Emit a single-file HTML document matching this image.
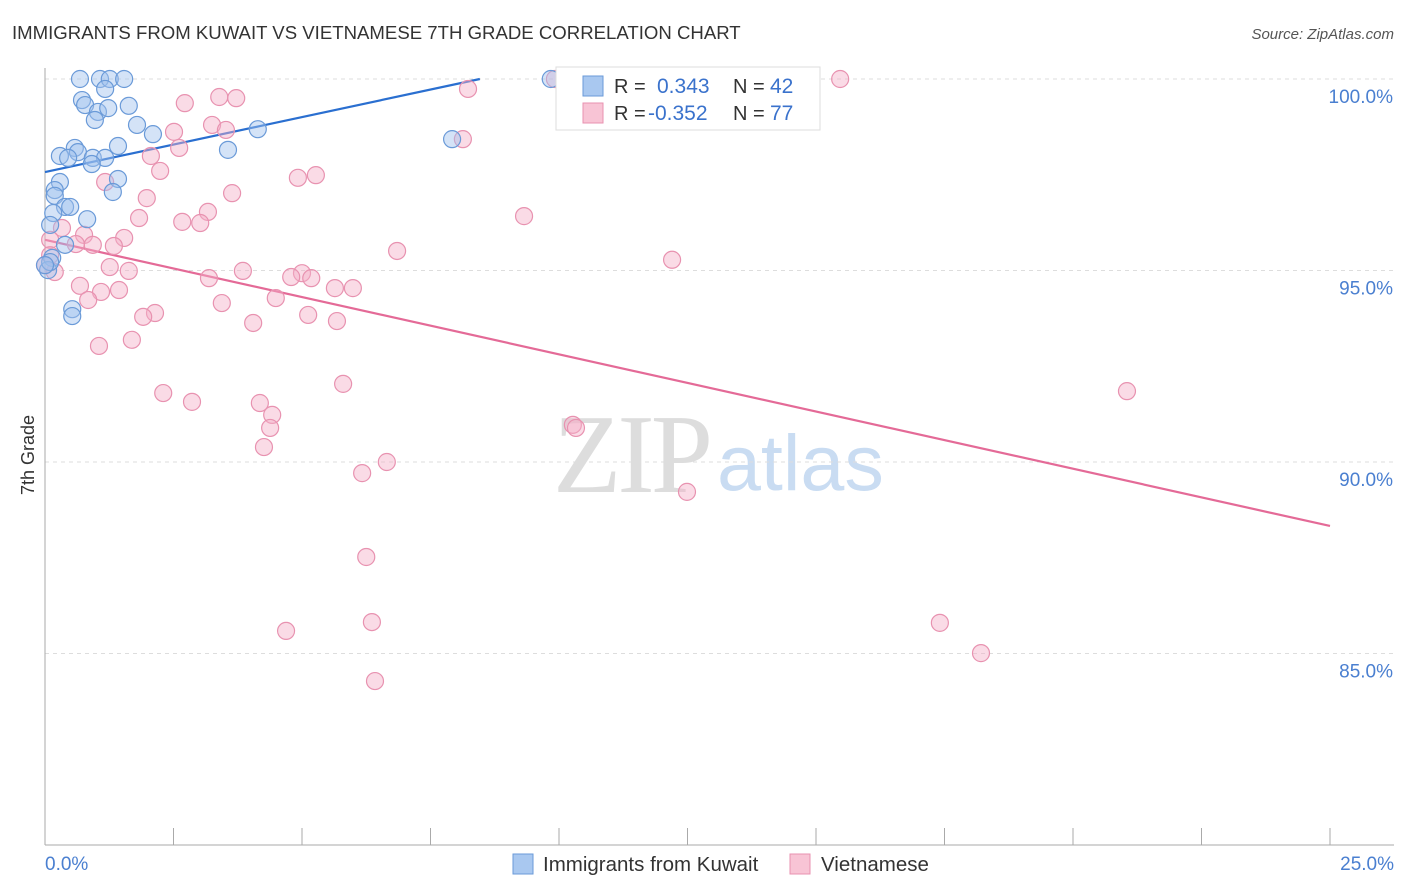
<!DOCTYPE html>
<html><head><meta charset="utf-8"><style>
body{margin:0;background:#fff;font-family:"Liberation Sans",sans-serif;}
svg{display:block}
</style></head><body>
<svg id="chart" width="1406" height="892" viewBox="0 0 1406 892">
<text x="12" y="39" font-size="18.6" fill="#333">IMMIGRANTS FROM KUWAIT VS VIETNAMESE 7TH GRADE CORRELATION CHART</text>
<text x="1394" y="39" font-size="15" fill="#555" font-style="italic" text-anchor="end">Source: ZipAtlas.com</text>
<text transform="translate(34,455) rotate(-90)" font-size="18" fill="#333" text-anchor="middle">7th Grade</text>
<g><text x="553" y="492" font-size="112" fill="#ddd" font-family="Liberation Serif,serif" letter-spacing="-4">ZIP</text><text x="717" y="490" font-size="79" fill="#c9dcf2">atlas</text></g>
<g id="grid"></g><g id="axes"></g><g id="lines"></g><g id="pts"></g>
<g>
<rect x="556" y="67" width="264" height="63" fill="#fff" stroke="#ddd"/>
<rect x="583" y="76" width="20" height="20" fill="#a9c8f0" stroke="#6a9ad8"/>
<text x="614" y="93" font-size="20" fill="#333">R = </text><text x="657" y="93" font-size="21" fill="#3a72cc">0.343</text>
<text x="733" y="93" font-size="20" fill="#333">N = </text><text x="770" y="93" font-size="21" fill="#3a72cc">42</text>
<rect x="583" y="103" width="20" height="20" fill="#f8c4d5" stroke="#e892b0"/>
<text x="614" y="120" font-size="20" fill="#333">R = </text><text x="648" y="120" font-size="21" fill="#3a72cc">-0.352</text>
<text x="733" y="120" font-size="20" fill="#333">N = </text><text x="770" y="120" font-size="21" fill="#3a72cc">77</text>
</g>
<g><rect x="513" y="854" width="20" height="20" fill="#a9c8f0" stroke="#6a9ad8"/><text x="543" y="871" font-size="20.5" fill="#333">Immigrants from Kuwait</text></g>
<g><rect x="790" y="854" width="20" height="20" fill="#f8c4d5" stroke="#e892b0"/><text x="821" y="871" font-size="20.5" fill="#333">Vietnamese</text></g>
</svg>
<script>
const blueX=[0.68,1.07,1.26,1.54,1.17,0.72,0.78,1.03,0.97,1.23,1.63,1.79,2.10,1.42,0.58,0.64,0.29,0.45,0.93,1.17,0.91,1.42,1.32,0.29,0.19,0.19,0.39,0.49,0.16,0.82,0.10,3.56,4.14,7.92,9.84,0.39,0.14,0.06,0.53,0.53,0.10,0];
const blueY=[100,100,100,100,99.74,99.45,99.32,99.14,98.93,99.24,99.30,98.80,98.56,98.25,98.20,98.09,97.99,97.94,97.94,97.94,97.78,97.39,97.05,97.31,97.10,96.95,96.66,96.66,96.50,96.34,96.19,98.15,98.69,98.43,100,95.67,95.33,95.01,93.99,93.81,95.22,95.14];
const pinkX=[15.47,9.92,8.23,2.72,3.39,3.72,3.25,3.52,2.51,8.13,2.61,2.06,2.24,5.27,4.92,1.17,3.64,1.98,9.32,3.17,1.83,2.67,3.02,0.33,0.76,1.54,0.10,0.60,0.93,1.34,6.85,12.20,1.26,1.63,3.85,0.19,5.00,4.79,5.18,3.19,0.68,1.44,5.64,5.99,1.09,0.84,4.49,3.44,5.12,2.14,1.91,4.05,5.68,1.69,1.05,5.80,2.30,2.86,4.18,4.42,4.38,10.27,10.33,21.05,4.26,6.65,6.17,12.49,6.25,4.69,6.36,17.41,18.21,6.42,0.10,0];
const pinkY=[100,100,99.74,99.37,99.53,99.50,98.80,98.67,98.62,98.43,98.20,97.99,97.60,97.49,97.42,97.31,97.02,96.89,96.42,96.53,96.37,96.27,96.24,96.11,95.93,95.85,95.80,95.69,95.67,95.64,95.51,95.28,95.09,94.99,94.99,94.96,94.93,94.83,94.80,94.80,94.60,94.49,94.54,94.54,94.44,94.23,94.28,94.15,93.84,93.89,93.79,93.63,93.68,93.19,93.03,92.04,91.80,91.57,91.54,91.23,90.89,90.97,90.89,91.85,90.39,90.00,89.71,89.22,87.52,85.59,85.82,85.80,85.01,84.28,95.40,95.14];
const yTicks=[100,95,90,85];
const yTickLabels=["100.0%","95.0%","90.0%","85.0%"];
const blueLine=[[0,97.57],[8.46,100]];
const pinkLine=[[0,95.80],[25,88.33]];
const NS="http://www.w3.org/2000/svg";
const sx=v=>45+v/25*1285, sy=v=>79+(100-v)*38.3;
function mk(p,t,a){const e=document.createElementNS(NS,t);for(const k in a)e.setAttribute(k,a[k]);document.getElementById(p).appendChild(e);return e;}
yTicks.forEach((t,i)=>{
 const g=mk('grid','line',{x1:45,x2:1394,y1:sy(t),y2:sy(t),stroke:'#ddd','stroke-dasharray':'4,4'});
 
 
 const l=mk('grid','text',{x:1393,y:sy(t)+24,'font-size':19,fill:'#4a7fd0','text-anchor':'end'});l.textContent=yTickLabels[i];
 
 
});
const ax=mk('axes','line',{x1:45,x2:45,y1:68,y2:845,stroke:'#aaa'});


const bx=mk('axes','line',{x1:45,x2:1394,y1:845,y2:845,stroke:'#aaa'});


for(let i=0;i<=10;i++){const t=mk('axes','line',{x1:sx(i*2.5),x2:sx(i*2.5),y1:828,y2:845,stroke:'#aaa'});
 
 }
[["0.0%",45,'start'],["25.0%",1394,'end']].forEach(d=>{const t=mk('axes','text',{x:d[1],y:870,'font-size':19,fill:'#4a7fd0','text-anchor':d[2]});t.textContent=d[0];
 
 });
function pts(X,Y,fill,stroke,name){X.forEach((x,i)=>{const c=mk('pts','circle',{cx:sx(x),cy:sy(Y[i]),r:8.5,fill:fill,'fill-opacity':0.45,stroke:stroke,'stroke-width':1.2});
 
 });}
pts(pinkX,pinkY,'#f5b0c8','#e892b0','vietnamese-point');
pts(blueX,blueY,'#9fc2ee','#6a9ad8','kuwait-point');
const bl=mk('lines','line',{x1:sx(blueLine[0][0]),y1:sy(blueLine[0][1]),x2:sx(blueLine[1][0]),y2:sy(blueLine[1][1]),stroke:'#2a6fd0','stroke-width':2.2});


const pl=mk('lines','line',{x1:sx(pinkLine[0][0]),y1:sy(pinkLine[0][1]),x2:sx(pinkLine[1][0]),y2:sy(pinkLine[1][1]),stroke:'#e46a97','stroke-width':2.2});


</script>
</body></html>
